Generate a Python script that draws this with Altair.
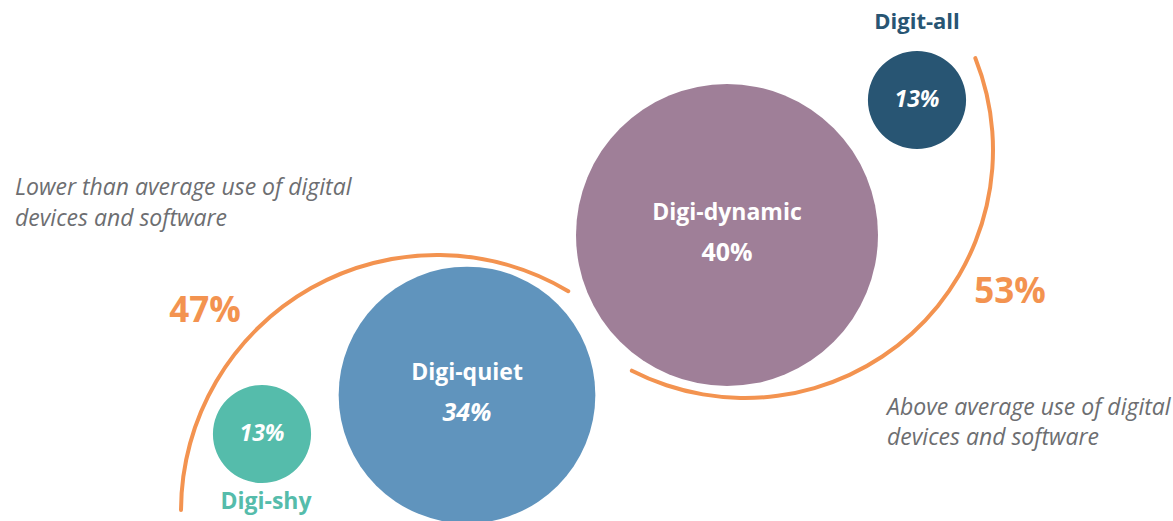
import math
import altair as alt
import pandas as pd

# ---- values ----
segments = ["Digit-all", "Digi-dynamic", "Digi-quiet", "Digi-shy"]
shares = [13, 40, 34, 13]
groups = ["Above average use", "Lower than average use"]
group_shares = [53, 47]
notes = [
    ["Above average use of digital", "devices and software"],
    ["Lower than average use of digital", "devices and software"],
]

# ---- layout (pixel positions / styles) ----
W, H = 1173, 521
seg_x = [917, 727, 467, 262]
seg_y = [100, 235, 395, 434]
seg_colors = ["#285573", "#9f7f98", "#6094bd", "#55bcab"]
arc_cx = [745, 437]
arc_cy = [150, 511]
arc_r = [248, 256]
arc_from_deg = [67.8, 269.8]
arc_to_deg = [207.6, 391.3]
ORANGE = "#f39350"
GREY = "#6d6e71"
FONT = "Open Sans"

xs = alt.Scale(domain=[0, W], nice=False, zero=False)
ys = alt.Scale(domain=[0, H], nice=False, zero=False, reverse=True)
X = lambda f: alt.X(f, type="quantitative", scale=xs, axis=None)
Y = lambda f: alt.Y(f, type="quantitative", scale=ys, axis=None)

bub = pd.DataFrame({
    "segment": segments,
    "share": shares,
    "cx": seg_x,
    "cy": seg_y,
    "color": seg_colors,
})
bub["pct"] = bub["share"].astype(str) + "%"

circles = alt.Chart(bub).mark_circle(opacity=1, strokeWidth=0).encode(
    x=X("cx"), y=Y("cy"),
    size=alt.Size("share:Q", scale=alt.Scale(type="pow", exponent=2, domain=[0, 40], range=[0, 302 ** 2]), legend=None),
    color=alt.Color("color:N", scale=None),
)

# arcs
arcs_df = pd.DataFrame({
    "group": groups,
    "share": group_shares,
    "cx": arc_cx,
    "cy": arc_cy,
    "r": arc_r,
    "t1": [math.radians(d) for d in arc_from_deg],
    "t2": [math.radians(d) for d in arc_to_deg],
})
arcs_df["r_out"] = arcs_df["r"] + 2
arcs_df["r_in"] = arcs_df["r"] - 2

arcs = alt.Chart(arcs_df).mark_arc(color=ORANGE, cornerRadius=2).encode(
    x=X("cx"), y=Y("cy"),
    theta=alt.Theta("t1:Q", scale=None),
    theta2="t2:Q",
    radius=alt.Radius("r_out:Q", scale=None),
    radius2="r_in:Q",
)

# inner labels for big bubbles
inner = bub[bub["segment"].isin(["Digi-dynamic", "Digi-quiet"])].copy()
inner["name_y"] = inner["cy"] - 22
inner["pct_y"] = inner["cy"] + 18
inner_names = alt.Chart(inner).mark_text(font=FONT, fontSize=23, fontWeight="bold", color="white").encode(
    x=X("cx"), y=Y("name_y"), text="segment:N")
inner_pct_dyn = alt.Chart(inner[inner["segment"] == "Digi-dynamic"]).mark_text(
    font=FONT, fontSize=25, fontWeight="bold", color="white").encode(x=X("cx"), y=Y("pct_y"), text="pct:N")
inner_pct_q = alt.Chart(inner[inner["segment"] == "Digi-quiet"]).mark_text(
    font=FONT, fontSize=25, fontWeight="bold", fontStyle="italic", color="white").encode(x=X("cx"), y=Y("pct_y"), text="pct:N")

small = bub[bub["segment"].isin(["Digit-all", "Digi-shy"])].copy()
small_pct = alt.Chart(small).mark_text(font=FONT, fontSize=23, fontWeight="bold", fontStyle="italic", color="white").encode(
    x=X("cx"), y=Y("cy"), text="pct:N")
small["name_x"] = small["cx"] + [0, 4]
small["name_y"] = small["cy"] + [-78, 68]
small["fs"] = [22, 23]
small_names = alt.Chart(small).mark_text(font=FONT, fontWeight="bold").encode(
    x=X("name_x"), y=Y("name_y"), text="segment:N", color=alt.Color("color:N", scale=None),
    size=alt.Size("fs:Q", scale=None, legend=None))

# group percentages
gp = pd.DataFrame({"share": group_shares, "x": [1010, 205], "y": [292, 311]})
gp["pct"] = gp["share"].astype(str) + "%"
group_pct = alt.Chart(gp).mark_text(font=FONT, fontSize=35, fontWeight="bold", color=ORANGE).encode(
    x=X("x"), y=Y("y"), text="pct:N")

# notes
nt_rows = []
note_x = [887, 15]
note_y = [[408, 438], [188, 219]]
for i, lines in enumerate(notes):
    for j, line in enumerate(lines):
        nt_rows.append({"text": line, "x": note_x[i], "y": note_y[i][j]})
nt = pd.DataFrame(nt_rows)
note_text = alt.Chart(nt).mark_text(font=FONT, fontSize=23, fontStyle="italic", color=GREY, align="left").encode(
    x=X("x"), y=Y("y"), text="text:N")

chart = alt.layer(
    arcs, circles, inner_names, inner_pct_dyn, inner_pct_q, small_pct, small_names, group_pct, note_text
).properties(width=W, height=H, padding=0, autosize="none", background="white").configure_view(stroke=None)

chart.save("out.html", embed_options={"renderer": "svg", "actions": False})
